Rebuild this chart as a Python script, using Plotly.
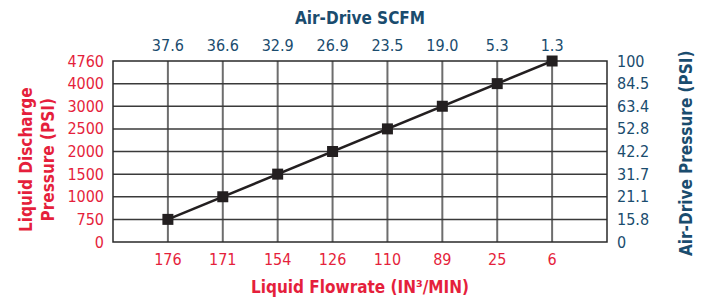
import plotly.graph_objects as go

flowrate_labels = ["176", "171", "154", "126", "110", "89", "25", "6"]
scfm_labels = ["37.6", "36.6", "32.9", "26.9", "23.5", "19.0", "5.3", "1.3"]
liquid_psi_ticks = ["0", "750", "1000", "1500", "2000", "2500", "3000", "4000", "4760"]
air_psi_ticks = ["0", "15.8", "21.1", "31.7", "42.2", "52.8", "63.4", "84.5", "100"]
liquid_psi_values = ["750", "1000", "1500", "2000", "2500", "3000", "4000", "4760"]

RED = "#e51f3c"
BLUE = "#1a4c6e"
FONT = "DejaVu Sans Condensed, Liberation Sans Narrow, Arial Narrow, sans-serif"

x_pos = [i + 1 for i in range(len(flowrate_labels))]
y_pos = [liquid_psi_ticks.index(v) for v in liquid_psi_values]

fig = go.Figure()
fig.add_trace(go.Scatter(
    x=x_pos, y=y_pos, mode="lines+markers",
    line=dict(color="#231f20", width=2.5),
    marker=dict(symbol="square", size=11, color="#231f20"),
    showlegend=False, cliponaxis=False,
))
fig.add_trace(go.Scatter(x=x_pos, y=y_pos, xaxis="x2", yaxis="y2",
                         mode="markers", marker=dict(opacity=0), showlegend=False,
                         hoverinfo="skip"))

nx = len(flowrate_labels) + 1
ny = len(liquid_psi_ticks) - 1

common_x = dict(range=[0, nx], showgrid=False, zeroline=False, showline=False,
                ticks="", fixedrange=True, automargin=False)
common_y = dict(range=[0, ny], tickvals=list(range(ny + 1)), showgrid=False,
                zeroline=False, ticks="", fixedrange=True, automargin=False)
fig.update_layout(
    width=707, height=302,
    margin=dict(l=113, r=100, t=61, b=60, autoexpand=False),
    paper_bgcolor="white", plot_bgcolor="white",
    font=dict(family=FONT, size=16),
    xaxis=dict(**common_x, tickvals=x_pos, ticktext=flowrate_labels,
               tickfont=dict(color=RED, size=16), ticklabelstandoff=6),
    xaxis2=dict(**common_x, overlaying="x", side="top", tickvals=x_pos,
                ticktext=scfm_labels, tickfont=dict(color=BLUE, size=16),
                ticklabelstandoff=6),
    yaxis=dict(**common_y, ticktext=liquid_psi_ticks,
               tickfont=dict(color=RED, size=16), ticklabelstandoff=8),
    yaxis2=dict(**common_y, ticktext=air_psi_ticks, overlaying="y", side="right",
                tickfont=dict(color=BLUE, size=16), ticklabelstandoff=9),
)

shapes = []
for i in range(1, nx):
    shapes.append(dict(type="line", xref="x", yref="paper", x0=i, x1=i, y0=0, y1=1,
                       line=dict(color="#6d6d6d", width=2), layer="below"))
for j in range(1, ny):
    shapes.append(dict(type="line", xref="paper", yref="y", x0=0, x1=1, y0=j, y1=j,
                       line=dict(color="#3a3a3a", width=1.5), layer="below"))
shapes.append(dict(type="rect", xref="paper", yref="paper", x0=0, x1=1, y0=0, y1=1,
                   line=dict(color="#2a2a2a", width=1.5), layer="below"))
fig.update_layout(shapes=shapes)

ann = [
    dict(text="<b>Air-Drive SCFM</b>", x=360, y=18, color=BLUE, angle=0),
    dict(text="<b>Liquid Flowrate (IN³/MIN)</b>", x=360, y=287, color=RED, angle=0),
    dict(text="<b>Liquid Discharge<br>Pressure (PSI)</b>", x=37, y=160, color=RED, angle=-90),
    dict(text="<b>Air-Drive Pressure (PSI)</b>", x=686, y=154, color=BLUE, angle=-90),
]
annotations = []
for a in ann:
    annotations.append(dict(
        text=a["text"], xref="paper", yref="paper",
        x=(a["x"] - 113) / (707 - 113 - 100),
        y=1 - (a["y"] - 61) / (302 - 61 - 60),
        xanchor="center", yanchor="middle", showarrow=False, textangle=a["angle"],
        font=dict(color=a["color"], size=17, family=FONT),
    ))
fig.update_layout(annotations=annotations)

fig.write_html("out.html", config={"displayModeBar": False},
               post_script="document.body.style.margin='0';document.body.style.overflow='hidden';")
